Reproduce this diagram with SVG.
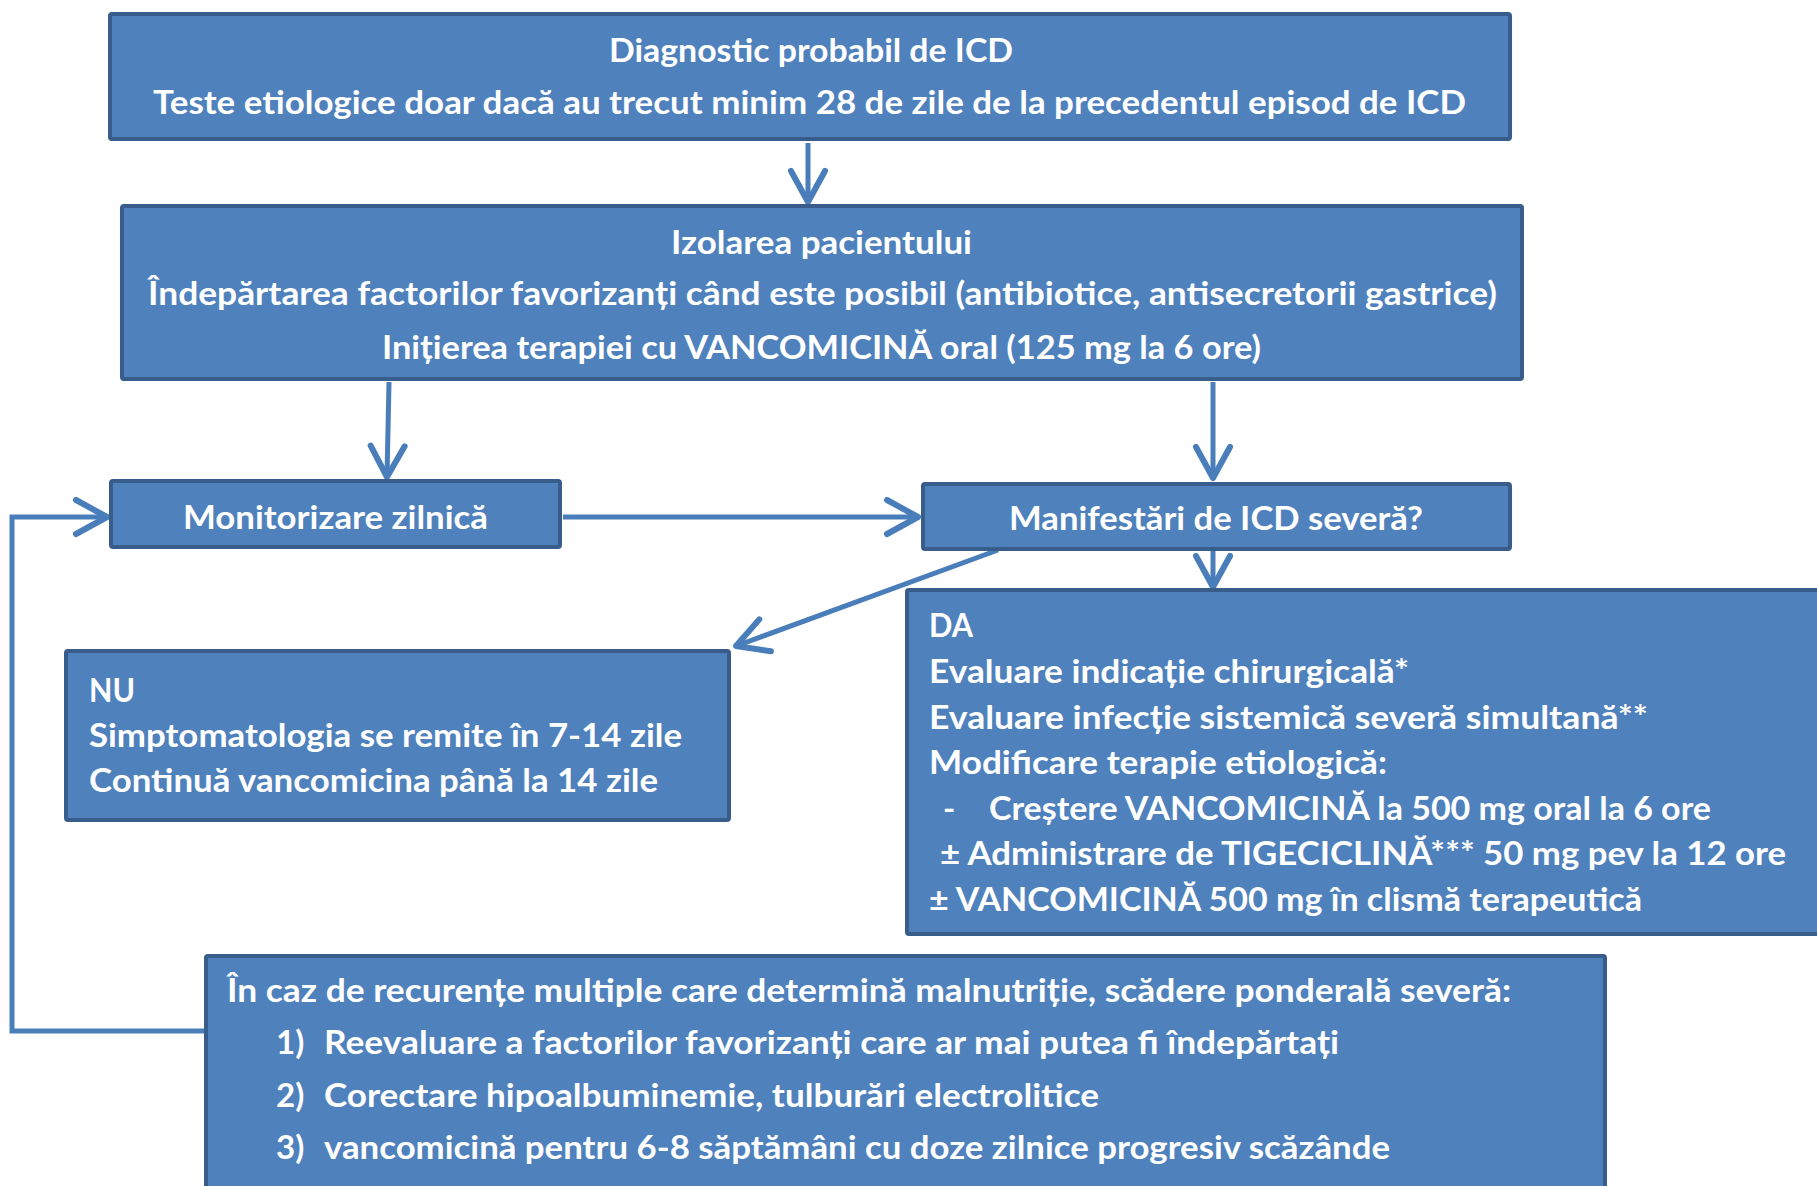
<svg xmlns="http://www.w3.org/2000/svg" width="1817" height="1186" viewBox="0 0 1817 1186">
  <defs>
    <style>
      .box { fill: #4f81bd; stroke: #385d8a; stroke-width: 4; }
      .t { font-family: Lato, "Noto Sans", "Liberation Sans", sans-serif; font-weight: bold; font-size: 33px; fill: #ffffff; }
      .c { fill: none; stroke: #4a7ebb; stroke-width: 5; }
    </style>
    <marker id="arr" markerUnits="userSpaceOnUse" markerWidth="50" markerHeight="50" viewBox="-40 -25 50 50" refX="0" refY="0" orient="auto">
      <path d="M -31,-17 L 0,0 L -31,17" fill="none" stroke="#4a7ebb" stroke-width="6" stroke-linecap="round" stroke-linejoin="round"/>
    </marker>
  </defs>
  <rect width="1817" height="1186" fill="#ffffff"/>

  <g id="connectors">
    <path class="c" d="M 808,143 V 202" marker-end="url(#arr)"/>
    <path class="c" d="M 389,382 L 387,477" marker-end="url(#arr)"/>
    <path class="c" d="M 1213,382 V 478" marker-end="url(#arr)"/>
    <path class="c" d="M 563,517 H 918" marker-end="url(#arr)"/>
    <path class="c" d="M 1213,551 V 587" marker-end="url(#arr)"/>
    <path class="c" d="M 998,550 L 736,646" stroke-width="6" marker-end="url(#arr)"/>
    <path class="c" d="M 205,1031 H 12 V 517 H 107" marker-end="url(#arr)"/>
  </g>

  <g id="n1">
    <rect class="box" x="110" y="14" width="1400" height="125" rx="2"/>
    <text class="t" x="609" y="62" textLength="404" lengthAdjust="spacingAndGlyphs">Diagnostic probabil de ICD</text>
    <text class="t" x="153" y="114" textLength="1313" lengthAdjust="spacingAndGlyphs">Teste etiologice doar dacă au trecut minim 28 de zile de la precedentul episod de ICD</text>
  </g>

  <g id="n2">
    <rect class="box" x="122" y="206" width="1400" height="173" rx="2"/>
    <text class="t" x="671" y="254" textLength="301" lengthAdjust="spacingAndGlyphs">Izolarea pacientului</text>
    <text class="t" x="148" y="305" textLength="1349" lengthAdjust="spacingAndGlyphs">Îndepărtarea factorilor favorizanți când este posibil (antibiotice, antisecretorii gastrice)</text>
    <text class="t" x="382" y="359" textLength="879" lengthAdjust="spacingAndGlyphs">Inițierea terapiei cu VANCOMICINĂ oral (125 mg la 6 ore)</text>
  </g>

  <g id="n3">
    <rect class="box" x="111" y="481" width="449" height="66" rx="2"/>
    <text class="t" x="183" y="529" textLength="305" lengthAdjust="spacingAndGlyphs">Monitorizare zilnică</text>
  </g>

  <g id="n4">
    <rect class="box" x="923" y="484" width="587" height="65" rx="2"/>
    <text class="t" x="1009" y="530" textLength="414" lengthAdjust="spacingAndGlyphs">Manifestări de ICD severă?</text>
  </g>

  <g id="n5">
    <rect class="box" x="66" y="651" width="663" height="169" rx="2"/>
    <text class="t" x="89" y="702" textLength="46" lengthAdjust="spacingAndGlyphs">NU</text>
    <text class="t" x="89" y="747" textLength="593" lengthAdjust="spacingAndGlyphs">Simptomatologia se remite în 7-14 zile</text>
    <text class="t" x="89" y="792" textLength="569" lengthAdjust="spacingAndGlyphs">Continuă vancomicina până la 14 zile</text>
  </g>

  <g id="n6">
    <rect class="box" x="907" y="590" width="930" height="344" rx="2"/>
    <text class="t" x="929" y="637" textLength="44" lengthAdjust="spacingAndGlyphs">DA</text>
    <text class="t" x="929" y="683" textLength="480" lengthAdjust="spacingAndGlyphs">Evaluare indicație chirurgicală*</text>
    <text class="t" x="929" y="729" textLength="719" lengthAdjust="spacingAndGlyphs">Evaluare infecție sistemică severă simultană**</text>
    <text class="t" x="929" y="774" textLength="458" lengthAdjust="spacingAndGlyphs">Modificare terapie etiologică:</text>
    <text class="t" x="943" y="820">-</text>
    <text class="t" x="989" y="820" textLength="722" lengthAdjust="spacingAndGlyphs">Creștere VANCOMICINĂ la 500 mg oral la 6 ore</text>
    <text class="t" x="940" y="865" textLength="846" lengthAdjust="spacingAndGlyphs">± Administrare de TIGECICLINĂ*** 50 mg pev la 12 ore</text>
    <text class="t" x="929" y="911" textLength="713" lengthAdjust="spacingAndGlyphs">± VANCOMICINĂ 500 mg în clismă terapeutică</text>
  </g>

  <g id="n7">
    <rect class="box" x="206" y="956" width="1399" height="240" rx="2"/>
    <text class="t" x="227" y="1002" textLength="1284" lengthAdjust="spacingAndGlyphs">În caz de recurențe multiple care determină malnutriție, scădere ponderală severă:</text>
    <text class="t" x="276" y="1054">1)</text>
    <text class="t" x="324" y="1054" textLength="1015" lengthAdjust="spacingAndGlyphs">Reevaluare a factorilor favorizanți care ar mai putea fi îndepărtați</text>
    <text class="t" x="276" y="1107">2)</text>
    <text class="t" x="324" y="1107" textLength="775" lengthAdjust="spacingAndGlyphs">Corectare hipoalbuminemie, tulburări electrolitice</text>
    <text class="t" x="276" y="1159">3)</text>
    <text class="t" x="324" y="1159" textLength="1066" lengthAdjust="spacingAndGlyphs">vancomicină pentru 6-8 săptămâni cu doze zilnice progresiv scăzânde</text>
  </g>
</svg>
